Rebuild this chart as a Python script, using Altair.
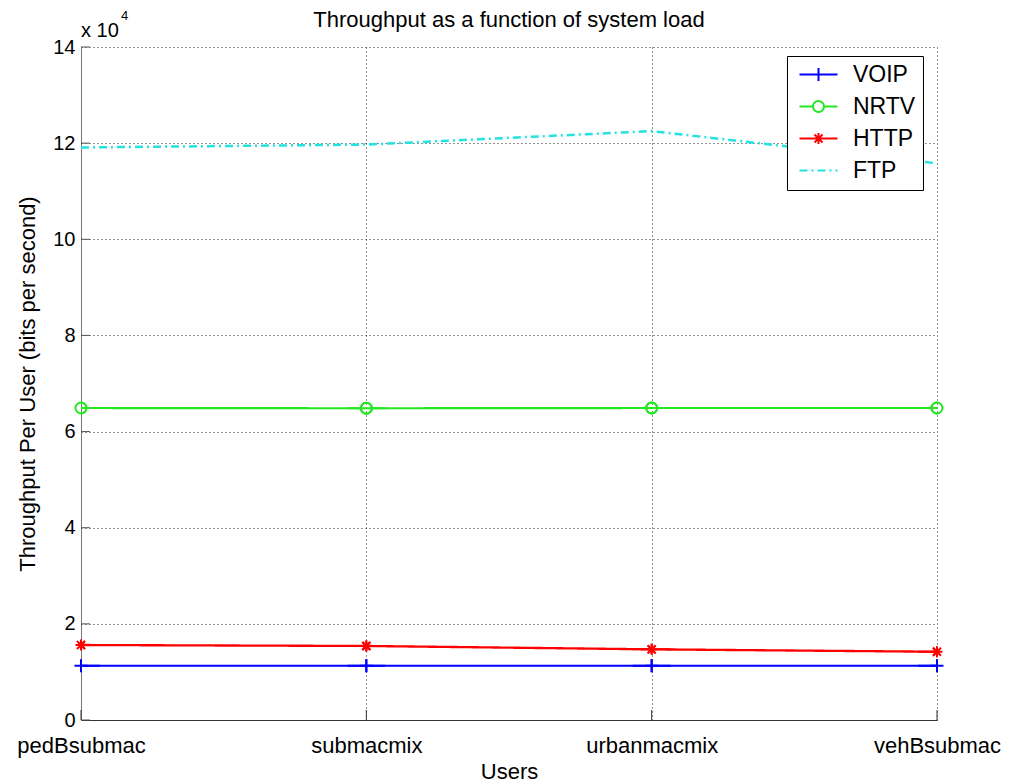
import altair as alt
import pandas as pd

# ---- data ----
users = ["pedBsubmac", "submacmix", "urbanmacmix", "vehBsubmac"]
series_names = ["VOIP", "NRTV", "HTTP", "FTP"]
voip = [11300, 11300, 11300, 11300]
nrtv = [64900, 64850, 64900, 64900]
http = [15600, 15400, 14700, 14200]
ftp = [119100, 119700, 122500, 115800]
y_ticks = [0, 20000, 40000, 60000, 80000, 100000, 120000, 140000]
colors = ["#0000ff", "#22e822", "#ff0000", "#22e2e2"]
title_text = ["Throughput as a function of system load"]
x_title = "Users"
y_title = "Throughput Per User (bits per second)"
exp_base = ["x 10"]
exp_power = ["4"]

FONT = "Liberation Sans"
W, H = 856, 673

rows = []
for name, vals in zip(series_names, [voip, nrtv, http, ftp]):
    for u, v in zip(users, vals):
        rows.append({"user": u, "series": name, "value": v})
df = pd.DataFrame(rows)
df_marked = df[df["series"] != "FTP"]

# marker-only symbols (plot) and line+marker symbols (legend)
marker_paths = {
    "VOIP": "M-0.65,0H0.65M0,-0.65V0.65",
    "NRTV": "M-0.55,0A0.55,0.55 0 1,0 0.55,0A0.55,0.55 0 1,0 -0.55,0",
    "HTTP": "M-0.55,0H0.55M0,-0.55V0.55M-0.4,-0.4L0.4,0.4M-0.4,0.4L0.4,-0.4",
}
legend_paths = [
    "M-1.9,0H1.9M0,-0.65V0.65",
    "M-1.9,0H-0.55M0.55,0H1.9M-0.55,0A0.55,0.55 0 1,0 0.55,0A0.55,0.55 0 1,0 -0.55,0",
    "M-1.9,0H1.9M0,-0.55V0.55M-0.4,-0.4L0.4,0.4M-0.4,0.4L0.4,-0.4",
    "M-1.9,0H-1.1M-0.7,0H-0.5M-0.1,0H0.7M1.1,0H1.3M1.7,0H1.9",
]

x_enc = alt.X(
    "user:N",
    sort=users,
    scale=alt.Scale(type="point", padding=0, domain=users),
    axis=alt.Axis(
        title=x_title,
        labelAngle=0,
        labelPadding=15,
        labelFontSize=22,
        titlePadding=5,
        titleFontSize=22,
        domainColor="#333333",
    ),
)
y_enc = alt.Y(
    "value:Q",
    scale=alt.Scale(domain=[0, 140000], nice=False, zero=True),
    axis=alt.Axis(
        title=y_title,
        values=y_ticks,
        labelExpr="datum.value / 10000",
        labelPadding=6,
        labelFontSize=20,
        titlePadding=13,
        titleFontSize=22,
        domainColor="#777777",
    ),
)
color_scale = alt.Scale(domain=series_names, range=colors)

legend_props = dict(
    title=None,
    orient="none",
    legendX=706,
    legendY=9,
    padding=7,
    rowPadding=8,
    symbolSize=400,
    symbolStrokeWidth=2,
    symbolOffset=13,
    labelOffset=23,
    labelFontSize=23,
    labelFont=FONT,
    labelColor="black",
    strokeColor="black",
    fillColor="white",
    symbolOpacity=1,
)

lines = alt.Chart(df).mark_line().encode(
    x=x_enc,
    y=y_enc,
    color=alt.Color("series:N", scale=color_scale, legend=None),
    strokeDash=alt.StrokeDash(
        "series:N",
        scale=alt.Scale(domain=series_names, range=[[1, 0], [1, 0], [1, 0], [8, 4, 2, 4]]),
        legend=None,
    ),
    strokeWidth=alt.StrokeWidth(
        "series:N",
        scale=alt.Scale(domain=series_names, range=[2, 2.5, 3.5, 3]),
        legend=None,
    ),
    detail="series:N",
)

# legend-providing layer: line+marker symbols, clipped to the plot so the
# short horizontal strokes never show outside the axes
legend_layer = alt.Chart(df_marked).mark_point(
    filled=False, size=400, strokeWidth=2, opacity=1, clip=True
).encode(
    x=alt.X("user:N", sort=users),
    y="value:Q",
    color=alt.Color("series:N", scale=color_scale, legend=alt.Legend(**legend_props)),
    shape=alt.Shape(
        "series:N",
        scale=alt.Scale(domain=series_names, range=legend_paths),
        legend=alt.Legend(**legend_props),
    ),
)

# full markers on top (not clipped)
marker_layers = []
for name, col in zip(series_names[:3], colors[:3]):
    marker_layers.append(
        alt.Chart(df[df["series"] == name]).mark_point(
            filled=False, size=400, strokeWidth=2, opacity=1,
            shape=marker_paths[name], color=col,
        ).encode(x=alt.X("user:N", sort=users), y="value:Q")
    )

xticks = alt.Chart(pd.DataFrame({"user": users})).mark_rule(color="#333333", strokeWidth=1).encode(
    x=alt.X("user:N", sort=users),
    y=alt.value(H),
    y2=alt.value(H - 10),
)
yticks = alt.Chart(pd.DataFrame({"value": y_ticks})).mark_rule(color="#555555", strokeWidth=1).encode(
    y="value:Q",
    x=alt.value(0),
    x2=alt.value(9),
)

title_mark = alt.Chart(pd.DataFrame({"t": title_text})).mark_text(
    align="center", baseline="alphabetic", fontSize=22, font=FONT, color="black"
).encode(text="t:N", x=alt.value(W / 2), y=alt.value(-20))
exp1 = alt.Chart(pd.DataFrame({"t": exp_base})).mark_text(
    align="left", baseline="alphabetic", fontSize=20, font=FONT, color="black"
).encode(text="t:N", x=alt.value(0), y=alt.value(-10))
exp2 = alt.Chart(pd.DataFrame({"t": exp_power})).mark_text(
    align="left", baseline="alphabetic", fontSize=13, font=FONT, color="black"
).encode(text="t:N", x=alt.value(40), y=alt.value(-27))

chart = (
    alt.layer(lines, xticks, yticks, legend_layer, *marker_layers, title_mark, exp1, exp2)
    .resolve_scale(color="independent", shape="independent")
    .properties(
        width=W,
        height=H,
        autosize=alt.AutoSizeParams(type="none"),
        padding={"left": 73, "top": 39, "right": 71, "bottom": 63},
    )
    .configure_view(stroke=None)
    .configure_axis(
        grid=True,
        gridDash=[1, 3],
        gridColor="#000000",
        gridOpacity=0.85,
        gridWidth=1,
        ticks=False,
        labelFont=FONT,
        titleFont=FONT,
        labelColor="black",
        titleColor="black",
        titleFontWeight="normal",
        domainWidth=1,
    )
)

chart.save("out.html", embed_options={"renderer": "svg", "actions": False})
